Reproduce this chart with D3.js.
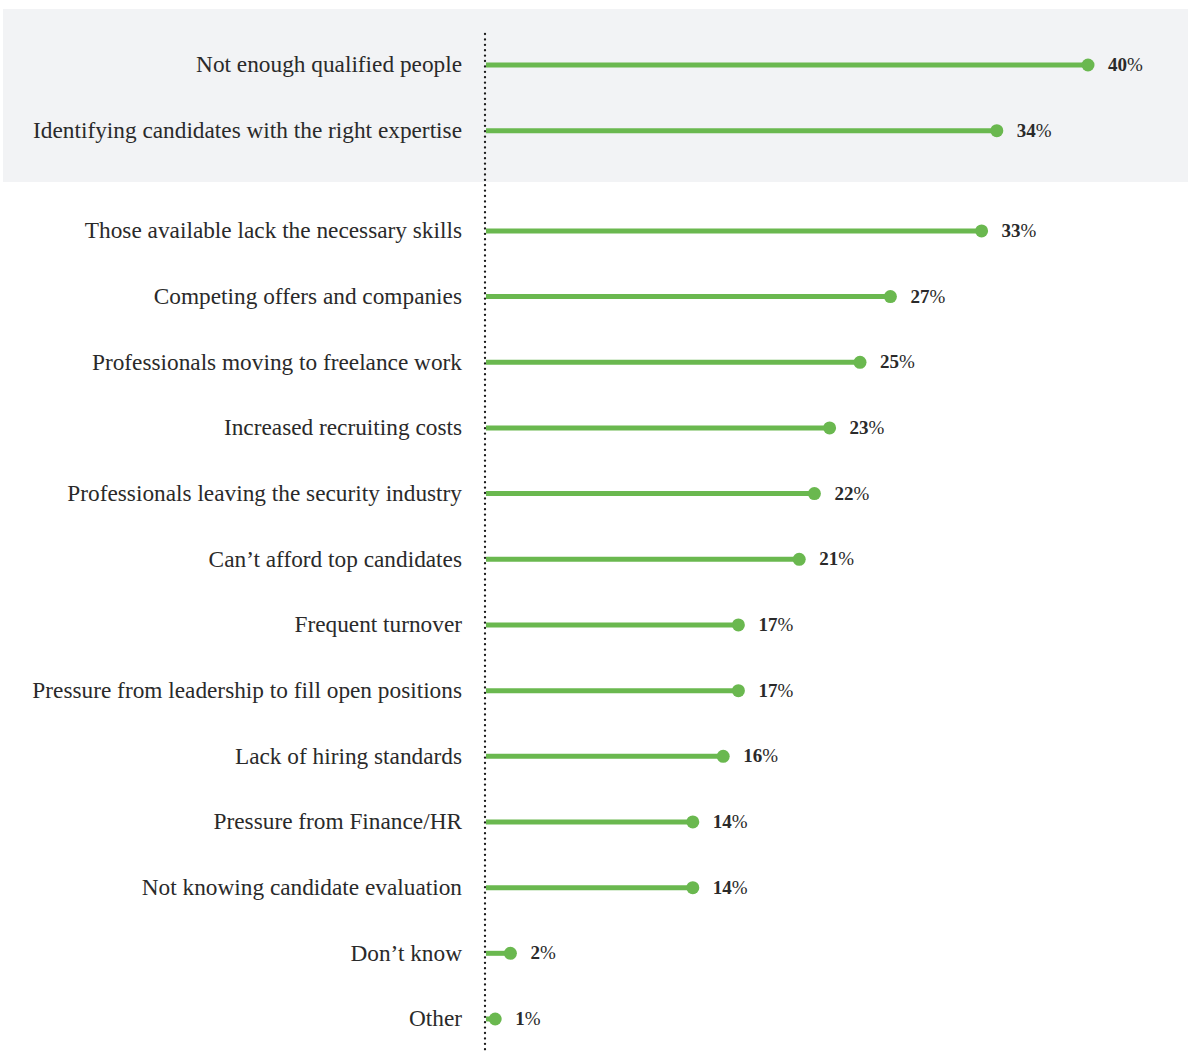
<!DOCTYPE html>
<html>
<head>
<meta charset="utf-8">
<script src="https://cdn.jsdelivr.net/npm/d3@7"></script>
<style>
  html, body { margin: 0; padding: 0; background: #ffffff; }
  svg { display: block; }
</style>
</head>
<body>
<svg id="chart" width="1188" height="1051"></svg>
<script>
// Challenges in hiring, share of respondents (%)
const categories = [
  "Not enough qualified people",
  "Identifying candidates with the right expertise",
  "Those available lack the necessary skills",
  "Competing offers and companies",
  "Professionals moving to freelance work",
  "Increased recruiting costs",
  "Professionals leaving the security industry",
  "Can\u2019t afford top candidates",
  "Frequent turnover",
  "Pressure from leadership to fill open positions",
  "Lack of hiring standards",
  "Pressure from Finance/HR",
  "Not knowing candidate evaluation",
  "Don\u2019t know",
  "Other"
];
const values = [40, 34, 33, 27, 25, 23, 22, 21, 17, 17, 16, 14, 14, 2, 1];
// The first two rows sit in a shaded block
const highlighted = [true, true, false, false, false, false, false, false, false, false, false, false, false, false, false];

const W = 1188, H = 1051;
const axisX = 485;
const groupGap = 34.6;
const green = "#6ab84f";
const textColor = "#2a2a2a";
const serif = "'Liberation Serif', 'DejaVu Serif', serif";

const svg = d3.select("#chart");

const x = d3.scaleLinear().domain([0, 40]).range([480, 1088]);
const yBase = d3.scalePoint().domain(categories).range([65, 65 + 14 * 65.67]);
const y = (c, i) => yBase(c) + (highlighted[i] ? 0 : groupGap);

// Shaded block behind the highlighted rows
svg.append("rect")
  .attr("x", 3).attr("y", 9)
  .attr("width", W - 3).attr("height", 173)
  .attr("fill", "#f2f3f5");

// Dotted baseline
svg.append("line")
  .attr("x1", axisX).attr("x2", axisX)
  .attr("y1", 34).attr("y2", H)
  .attr("stroke", "#1a1a1a")
  .attr("stroke-width", 2.3)
  .attr("stroke-linecap", "round")
  .attr("stroke-dasharray", "0.1 5.3");

const rows = svg.append("g").selectAll("g")
  .data(categories.map((c, i) => ({ c, v: values[i], i })))
  .join("g")
  .attr("transform", d => `translate(0,${y(d.c, d.i)})`);

rows.append("text")
  .attr("x", 462)
  .attr("dy", "0.32em")
  .attr("text-anchor", "end")
  .attr("font-family", serif)
  .attr("font-size", 23.3)
  .attr("fill", textColor)
  .text(d => d.c);

rows.append("line")
  .attr("x1", axisX + 1)
  .attr("x2", d => Math.max(axisX + 1, x(d.v)))
  .attr("stroke", green)
  .attr("stroke-width", 5);

rows.append("circle")
  .attr("cx", d => x(d.v))
  .attr("r", 6.5)
  .attr("fill", green);

const lbl = rows.append("text")
  .attr("x", d => x(d.v) + 20)
  .attr("dy", "0.32em")
  .attr("font-family", serif)
  .attr("font-size", 19)
  .attr("fill", textColor);
lbl.append("tspan").attr("font-weight", "bold").text(d => d.v);
lbl.append("tspan").text("%");
</script>
</body>
</html>
